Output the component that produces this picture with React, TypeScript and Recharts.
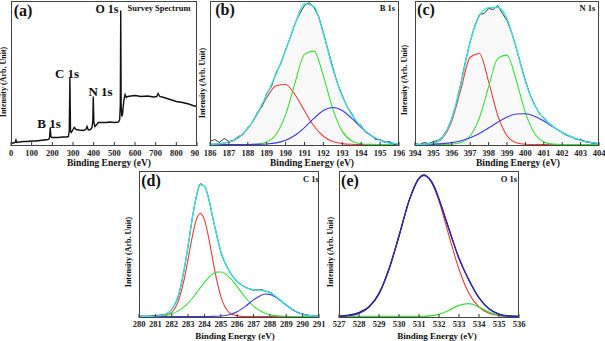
import React from 'react';
import { ComposedChart, Line, Area, XAxis, YAxis } from 'recharts';

const FONT = '"Liberation Serif", "Times New Roman", serif';

// ---------- (a) Survey spectrum ----------
const surveyEnergy = [0, 10, 20, 24, 28, 40, 60, 80, 100, 120, 140, 160, 180, 186, 190, 193, 198, 210, 230, 250, 270, 278, 282, 285, 288, 292, 300, 306, 315, 330, 350, 362, 368, 374, 385, 392, 396, 398, 401, 406, 415, 422, 440, 460, 480, 500, 520, 526, 529, 531, 533, 536, 540, 546, 552, 558, 565, 580, 600, 630, 660, 690, 705, 712, 720, 740, 770, 800, 830, 860, 880, 900];
const surveyIntensity = [1, 1.5, 2, 4.5, 2, 2.5, 3, 3, 3.5, 3.5, 4, 4.5, 5, 6, 17, 8, 7, 7, 7, 7.5, 7.5, 8, 14, 67, 13, 12, 15, 17, 15, 14.5, 14, 15, 18, 14.5, 15, 17, 24, 48, 22, 18, 20, 22, 22, 22, 22.5, 22, 22.5, 25, 40, 134, 40, 28, 31, 44, 50, 47, 48, 48.5, 49, 48, 48.5, 47.5, 48, 51, 48, 47, 45, 43, 42, 40.5, 39, 38];
const surveyTicks = [0, 100, 200, 300, 400, 500, 600, 700, 800, 900];

// ---------- (b) B 1s ----------
const bEnergy = [186, 186.5, 187, 187.5, 188, 188.5, 189, 189.5, 190, 190.5, 191, 191.5, 192, 192.5, 193, 193.5, 194, 194.5, 195, 195.5, 196];
const bRed = [0.2, 0.7, 2.4, 6.8, 16.0, 30.3, 46.8, 58.8, 60.0, 49.8, 33.7, 18.5, 8.3, 3.0, 0.9, 0.2, 0, 0, 0, 0, 0];
const bGreen = [0, 0, 0, 0, 0.06, 0.5, 2.5, 10.2, 29.9, 61.6, 90.1, 93.4, 68.4, 35.4, 13.1, 3.5, 0.7, 0.1, 0, 0, 0];
const bBlue = [0, 0, 0, 0, 0.03, 0.14, 0.5, 1.6, 4.2, 9.2, 16.9, 26.1, 33.9, 37, 33.9, 26.1, 16.9, 9.2, 4.2, 1.6, 0.5];
const bFit = [0.2, 0.7, 2.4, 6.8, 16.1, 30.9, 49.8, 70.6, 94.1, 120.6, 140.7, 138.0, 110.6, 75.4, 47.9, 29.8, 17.6, 9.3, 4.2, 1.6, 0.5];
const bRawEnergy = [186, 186.25, 186.5, 186.75, 187, 187.25, 187.5, 187.75, 188, 188.25, 188.5, 188.75, 189, 189.25, 189.5, 189.75, 190, 190.25, 190.5, 190.75, 191, 191.25, 191.5, 191.75, 192, 192.25, 192.5, 192.75, 193, 193.25, 193.5, 193.75, 194, 194.25, 194.5, 194.75, 195, 195.25, 195.5, 195.75, 196];
const bRaw = [3, 5, 2, 6, 3, 4, 8, 10, 17, 22, 32, 38, 51, 58, 72, 81, 95, 107, 121, 131, 139, 142, 137, 128, 112, 94, 77, 61, 49, 38, 31, 22, 19, 12, 10, 5, 5, 2, 3, 0, 1];
const bTicks = [186, 187, 188, 189, 190, 191, 192, 193, 194, 195, 196];

// ---------- (c) N 1s ----------
const cEnergy = [394, 394.5, 395, 395.5, 396, 396.5, 397, 397.5, 398, 398.5, 399, 399.5, 400, 400.5, 401, 401.5, 402, 402.5, 403, 403.5, 404];
const cRed = [0, 0.2, 1.2, 6.6, 23.5, 55.6, 87.3, 91.0, 62.9, 28.9, 8.8, 1.8, 0.2, 0, 0, 0, 0, 0, 0, 0, 0];
const cGreen = [0, 0, 0, 0.03, 0.3, 1.9, 8.5, 26.6, 57.5, 86.1, 89.4, 64.2, 31.9, 11.0, 2.6, 0.4, 0, 0, 0, 0, 0];
const cBlue = [0.04, 0.13, 0.34, 0.84, 1.85, 3.7, 6.7, 11.0, 16.5, 22.3, 27.4, 30.5, 30.8, 28.2, 23.4, 17.6, 12.1, 7.5, 4.2, 2.1, 1.0];
const cFit = [0, 0.3, 1.5, 7.5, 25.7, 61.2, 102.5, 128.6, 136.9, 137.3, 125.6, 96.5, 62.9, 39.2, 26.0, 18.0, 12.1, 7.5, 4.2, 2.1, 1.0];
const cRawEnergy = [394, 394.25, 394.5, 394.75, 395, 395.25, 395.5, 395.75, 396, 396.25, 396.5, 396.75, 397, 397.25, 397.5, 397.75, 398, 398.25, 398.5, 398.75, 399, 399.25, 399.5, 399.75, 400, 400.25, 400.5, 400.75, 401, 401.25, 401.5, 401.75, 402, 402.25, 402.5, 402.75, 403, 403.25, 403.5, 403.75, 404];
const cRaw = [1, 0, 2, 1, 3, 4, 8, 15, 26, 41, 62, 84, 103, 119, 130, 131, 136, 135, 139, 131, 124, 112, 97, 80, 64, 50, 40, 31, 27, 22, 18, 15, 12, 9, 8, 5, 5, 3, 2, 1, 1];
const cTicks = [394, 395, 396, 397, 398, 399, 400, 401, 402, 403, 404];

// ---------- (d) C 1s ----------
const dEnergy = [280, 280.5, 281, 281.5, 282, 282.5, 282.75, 283, 283.25, 283.5, 283.75, 284, 284.25, 284.5, 284.75, 285, 285.5, 286, 286.5, 287, 287.5, 287.75, 288, 288.5, 289, 289.5, 290, 290.5, 291];
const dRed = [0, 0, 0.04, 0.6, 4.2, 20.2, 36.3, 57.4, 79.4, 96.6, 103, 96.6, 79.4, 57.4, 36.3, 20.2, 4.2, 0.6, 0.04, 0, 0, 0, 0, 0, 0, 0, 0, 0, 0];
const dGreen = [0, 0.07, 0.3, 0.95, 2.7, 6.6, 9.6, 13.4, 18.0, 23.3, 28.8, 34.1, 38.8, 42.4, 44.4, 44.55, 39.6, 29.9, 19.0, 10.3, 4.7, 3.0, 1.8, 0.6, 0.2, 0.05, 0, 0, 0];
const dBlue = [0, 0, 0, 0, 0, 0, 0, 0, 0, 0, 0, 0, 0.06, 0.13, 0.27, 0.54, 1.8, 4.8, 10.1, 16.6, 21.6, 22.5, 22.1, 17.8, 11.3, 5.7, 2.2, 0.7, 0.2];
const dFit = [0, 0.07, 0.34, 1.55, 6.9, 26.8, 45.9, 70.8, 97.4, 119.9, 131.8, 130.7, 118.3, 99.9, 81.0, 65.3, 45.6, 35.3, 29.1, 26.9, 26.3, 25.5, 23.9, 18.4, 11.5, 5.75, 2.2, 0.7, 0.2];
const dRaw = [0.5, 0.3, 1.0, 1.8, 7.2, 26.2, 46.4, 70.3, 97.7, 119.3, 132.5, 130.1, 118.7, 99.3, 81.6, 64.8, 46.1, 34.8, 29.5, 26.5, 26.8, 25.2, 24.3, 18.0, 11.9, 5.5, 2.5, 0.9, 0.4];
const dTicks = [280, 281, 282, 283, 284, 285, 286, 287, 288, 289, 290, 291];

// ---------- (e) O 1s ----------
const eEnergy = [527, 527.5, 528, 528.5, 529, 529.5, 530, 530.5, 530.75, 531, 531.25, 531.5, 531.75, 532, 532.5, 533, 533.5, 534, 534.5, 535, 535.5, 536];
const eRed = [0.2, 0.9, 3.2, 9.5, 23.1, 47.2, 80.7, 115.4, 129.0, 137.9, 141, 137.9, 129.0, 115.4, 80.7, 47.2, 23.1, 9.5, 3.2, 0.9, 0.2, 0.03];
const eGreen = [0, 0, 0, 0, 0, 0, 0, 0, 0, 0.07, 0.2, 0.5, 1.1, 2.2, 6.2, 11.2, 12.9, 9.4, 4.3, 1.3, 0.2, 0.02];
const eFit = [0.2, 0.9, 3.2, 9.5, 23.1, 47.2, 80.7, 115.4, 129.0, 138.0, 141.2, 138.4, 130.1, 117.6, 86.9, 58.4, 36.0, 18.9, 7.5, 2.2, 0.4, 0.05];
const eRaw = [0.5, 1.5, 4.0, 9.8, 22.6, 47.8, 80.2, 115.9, 128.5, 138.4, 141.6, 138.0, 130.6, 117.1, 87.5, 57.9, 36.5, 18.5, 7.9, 2.5, 0.6, 0.2];
const eTicks = [527, 528, 529, 530, 531, 532, 533, 534, 535, 536];

// y tick marks (unlabelled) per panel
const aYTicks = [17, 38.5, 60, 81.5, 103, 124.5];
const bYTicks = [16, 32, 48, 64, 80, 96, 112, 128];
const cYTicks = [18, 36, 54, 72, 90, 108, 126];
const dYTicks = [18, 36, 54, 72, 90, 108, 126];
const eYTicks = [21, 42, 63, 84, 105, 126];

type Row = Record<string, number>;
function zip(x: number[], cols: Record<string, number[]>): Row[] {
  return x.map((v, i) => {
    const r: Row = { x: v };
    for (const k of Object.keys(cols)) r[k] = cols[k][i];
    return r;
  });
}

const RED = '#f23a3a';
const GREEN = '#3ade3a';
const BLUE = '#3a3af0';
const CYAN = '#3fdede';

const X_AXIS_H = 20;

function Panel(props: {
  left: number; top: number; width: number; height: number;
  margin: { top: number; right: number; bottom: number; left: number };
  xDomain: [number, number]; xTicks: number[];
  yDomain: [number, number]; yTicks: number[];
  data: Row[]; bg?: string; tickMargin?: number; children?: React.ReactNode;
}) {
  const { left, top, width, height, margin, xDomain, xTicks, yDomain, yTicks, data, bg, tickMargin = 8, children } = props;
  const plotW = width - margin.left - margin.right;
  const plotH = height - margin.top - margin.bottom - X_AXIS_H;
  return (
    <div style={{ position: 'absolute', left, top, width, height, background: bg }}>
      <ComposedChart width={width} height={height} data={data} margin={margin} style={{ fontFamily: FONT }}>
        <XAxis
          type="number"
          dataKey="x"
          domain={xDomain}
          ticks={xTicks}
          interval={0}
          allowDataOverflow
          axisLine={false}
          tickSize={-4}
          tickMargin={tickMargin}
          height={X_AXIS_H}
          tickLine={{ stroke: '#333' }}
          tick={{ fontSize: 8.5, fontWeight: 700, fill: '#222', fontFamily: FONT }}
        />
        <YAxis
          type="number"
          domain={yDomain}
          ticks={yTicks}
          allowDataOverflow
          axisLine={false}
          mirror
          width={0}
          tickSize={4}
          tick={false}
          tickLine={{ stroke: '#333' }}
        />
        {children}
      </ComposedChart>
      <div
        style={{
          position: 'absolute', left: margin.left, top: margin.top, width: plotW, height: plotH,
          border: '1px solid #444', boxSizing: 'border-box', pointerEvents: 'none',
        }}
      />
    </div>
  );
}

function T(props: { x: number; y: number; size: number; rot?: boolean; children: React.ReactNode }) {
  const { x, y, size, rot, children } = props;
  return (
    <div
      style={{
        position: 'absolute', left: x, top: y, fontSize: size, fontWeight: 700, color: '#111',
        fontFamily: FONT, whiteSpace: 'nowrap', lineHeight: 1,
        transform: `translate(-50%, -50%)${rot ? ' rotate(-90deg)' : ''}`,
      }}
    >
      {children}
    </div>
  );
}

const lineCommon = { dot: false, isAnimationActive: false, type: 'monotone' as const };

export default function App() {
  const aData = zip(surveyEnergy, { y: surveyIntensity });
  const bData = zip(bEnergy, { red: bRed, green: bGreen, blue: bBlue, fit: bFit });
  const bRawData = zip(bRawEnergy, { y: bRaw });
  const cData = zip(cEnergy, { red: cRed, green: cGreen, blue: cBlue, fit: cFit });
  const cRawData = zip(cRawEnergy, { y: cRaw });
  const dData = zip(dEnergy, { red: dRed, green: dGreen, blue: dBlue, fit: dFit, raw: dRaw });
  const eData = zip(eEnergy, { red: eRed, green: eGreen, fit: eFit, raw: eRaw });

  const topY: [number, number] = [-1.5, 143.5];
  const botY: [number, number] = [-1.5, 145.5];

  return (
    <div style={{ position: 'fixed', left: 0, top: 0, width: 605, height: 341, background: '#fff', overflow: 'hidden', fontFamily: FONT }}>
      <style>{`.recharts-cartesian-axis-tick-value, .recharts-cartesian-axis-tick-value tspan { font-family: ${FONT}; font-weight: 700; }`}</style>
      {/* (a) */}
      <Panel left={0} top={0} width={199} height={170} margin={{ top: 1, right: 2, bottom: 4, left: 11 }}
        xDomain={[0, 900]} xTicks={surveyTicks} yDomain={topY} yTicks={aYTicks} data={aData}>
        <Line {...lineCommon} type="linear" dataKey="y" stroke="#111" strokeWidth={1.4} />
      </Panel>

      {/* (b) */}
      <Panel left={199} top={0} width={206} height={170} margin={{ top: 1, right: 6, bottom: 4, left: 11 }}
        xDomain={[186, 196]} xTicks={bTicks} yDomain={topY} yTicks={bYTicks} data={bData} bg="#fff">
        <Area dataKey="fit" type="monotone" fill="#f6f6f6" fillOpacity={0.7} stroke="none" isAnimationActive={false} />
        <Line {...lineCommon} dataKey="red" stroke={RED} strokeWidth={1.1} />
        <Line {...lineCommon} dataKey="green" stroke={GREEN} strokeWidth={1.1} />
        <Line {...lineCommon} dataKey="blue" stroke={BLUE} strokeWidth={1.1} />
        <Line {...lineCommon} type="linear" data={bRawData} dataKey="y" stroke="#222" strokeWidth={0.9} />
        <Line {...lineCommon} dataKey="fit" stroke={CYAN} strokeWidth={1.4} />
      </Panel>

      {/* (c) */}
      <Panel left={400} top={0} width={205} height={170} margin={{ top: 1, right: 6, bottom: 4, left: 15 }}
        xDomain={[394, 404]} xTicks={cTicks} yDomain={topY} yTicks={cYTicks} data={cData}>
        <Area dataKey="fit" type="monotone" fill="#f6f6f6" fillOpacity={0.7} stroke="none" isAnimationActive={false} />
        <Line {...lineCommon} dataKey="red" stroke={RED} strokeWidth={1.1} />
        <Line {...lineCommon} dataKey="green" stroke={GREEN} strokeWidth={1.1} />
        <Line {...lineCommon} dataKey="blue" stroke={BLUE} strokeWidth={1.1} />
        <Line {...lineCommon} type="linear" data={cRawData} dataKey="y" stroke="#222" strokeWidth={0.9} />
        <Line {...lineCommon} dataKey="fit" stroke={CYAN} strokeWidth={1.4} />
      </Panel>

      {/* (d) */}
      <Panel left={124} top={170} width={206} height={171} margin={{ top: 1, right: 11, bottom: 3, left: 15 }} tickMargin={6.5}
        xDomain={[280, 291]} xTicks={dTicks} yDomain={botY} yTicks={dYTicks} data={dData}>
        <Line {...lineCommon} dataKey="red" stroke={RED} strokeWidth={1.1} />
        <Line {...lineCommon} dataKey="green" stroke={GREEN} strokeWidth={1.1} />
        <Line {...lineCommon} dataKey="blue" stroke={BLUE} strokeWidth={1.1} />
        <Line {...lineCommon} dataKey="raw" stroke="#222" strokeWidth={1} />
        <Line {...lineCommon} dataKey="fit" stroke={CYAN} strokeWidth={1.4} />
      </Panel>

      {/* (e) */}
      <Panel left={322} top={170} width={283} height={171} margin={{ top: 1, right: 86, bottom: 3, left: 17 }} tickMargin={6.5}
        xDomain={[527, 536]} xTicks={eTicks} yDomain={botY} yTicks={eYTicks} data={eData}>
        <Line {...lineCommon} dataKey="red" stroke={RED} strokeWidth={1.1} />
        <Line {...lineCommon} dataKey="green" stroke={GREEN} strokeWidth={1.3} />
        <Line {...lineCommon} dataKey="raw" stroke="#111" strokeWidth={1.2} />
        <Line {...lineCommon} dataKey="fit" stroke="#2a2ac8" strokeWidth={1.3} />
      </Panel>

      {/* panel letters */}
      <T x={23} y={11} size={16}>(a)</T>
      <T x={225} y={10} size={16}>(b)</T>
      <T x={426} y={10} size={16}>(c)</T>
      <T x={151} y={180.5} size={16}>(d)</T>
      <T x={350} y={180.5} size={16}>(e)</T>

      {/* titles */}
      <T x={159} y={7.5} size={8.5}>Survey Spectrum</T>
      <T x={107} y={8.5} size={12}>O 1s</T>
      <T x={67} y={73} size={13}>C 1s</T>
      <T x={100.5} y={91} size={13}>N 1s</T>
      <T x={49} y={123} size={13}>B 1s</T>
      <T x={387.5} y={8} size={8.5}>B 1s</T>
      <T x={587.5} y={8} size={8.5}>N 1s</T>
      <T x={311} y={178.5} size={8.5}>C 1s</T>
      <T x={509} y={178.5} size={8.5}>O 1s</T>

      {/* y titles */}
      <T x={4} y={82} size={8} rot>Intensity (Arb. Unit)</T>
      <T x={203} y={83} size={8} rot>Intensity (Arb. Unit)</T>
      <T x={405} y={80} size={8} rot>Intensity (Arb. Unit)</T>
      <T x={129} y={252} size={8} rot>Intensity (Arb. Unit)</T>
      <T x={331} y={252} size={8} rot>Intensity (Arb. Unit)</T>

      {/* x titles */}
      <T x={109} y={164} size={9.5}>Binding Energy (eV)</T>
      <T x={312} y={164} size={9.5}>Binding Energy (eV)</T>
      <T x={518} y={164} size={9.5}>Binding Energy (eV)</T>
      <T x={235} y={335.5} size={9}>Binding Energy (eV)</T>
      <T x={437} y={335.5} size={9}>Binding Energy (eV)</T>
    </div>
  );
}
